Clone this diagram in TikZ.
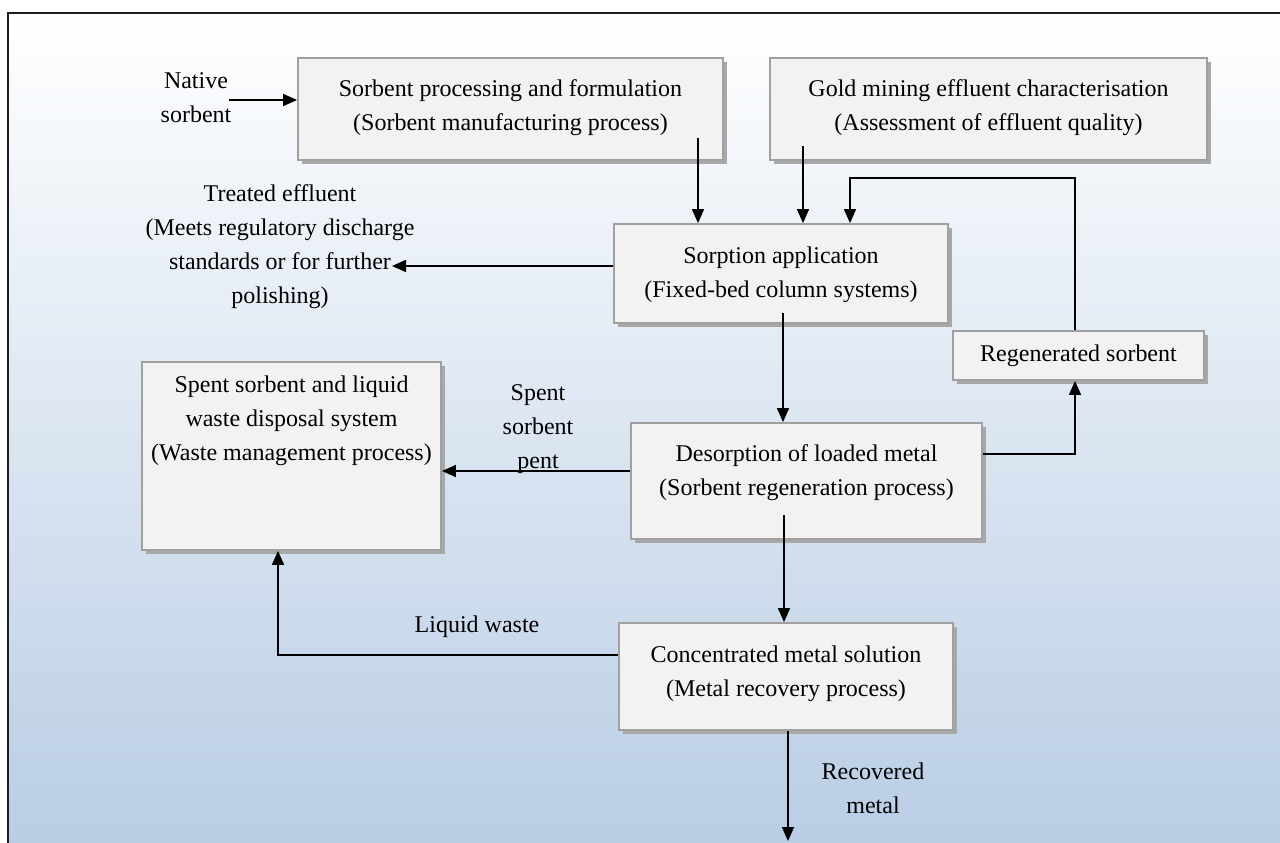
\documentclass[tikz,border=0pt]{standalone}
\usepackage{fontspec}
\setmainfont{Liberation Serif}
\usetikzlibrary{arrows.meta,shadows}
\definecolor{bgblue}{RGB}{185,205,229}
\definecolor{boxfill}{RGB}{242,242,242}
\definecolor{boxline}{RGB}{160,160,160}
\definecolor{shadowc}{RGB}{168,168,168}
\definecolor{framec}{RGB}{30,30,30}
\newcommand{\ml}[2]{\raisebox{#1}[\height][\depth]{\begin{tabular}{@{}c@{}}#2\end{tabular}}}
\begin{document}
\begin{tikzpicture}[x=1pt,y=-1pt,
  every node/.style={font=\fontsize{24}{34}\selectfont, inner sep=0pt},
  box/.style={draw=boxline, line width=1.8pt, fill=boxfill,
    drop shadow={shadow xshift=4pt, shadow yshift=-4pt, fill=shadowc, opacity=1}},
  arr/.style={line width=1.6pt, draw=black, -{Triangle[length=14pt,width=12pt]}}]
\useasboundingbox (0,0) rectangle (1280,843);
\shade[top color=white, bottom color=bgblue] (8,13) rectangle (1280,843);
\draw[line width=1.6pt, framec] (8,843) -- (8,13) -- (1280,13);

% boxes
\node[box, minimum width=425pt, minimum height=102pt] (b1) at (510.5,109)
  {\ml{2pt}{Sorbent processing and formulation\\(Sorbent manufacturing process)}};
\node[box, minimum width=437pt, minimum height=102pt] (b2) at (988.5,109)
  {\ml{2pt}{Gold mining effluent characterisation\\(Assessment of effluent quality)}};
\node[box, minimum width=334pt, minimum height=99pt] (sorp) at (781,273.5)
  {\ml{0pt}{Sorption application\\(Fixed-bed column systems)}};
\node[box, minimum width=251pt, minimum height=49pt] (regen) at (1078.5,355.5)
  {Regenerated sorbent};
\node[box, minimum width=351pt, minimum height=116pt] (desorp) at (806.5,481)
  {\ml{9pt}{Desorption of loaded metal\\(Sorbent regeneration process)}};
\node[box, minimum width=299pt, minimum height=188pt] (spent) at (291.5,456)
  {\ml{36pt}{Spent sorbent and liquid\\waste disposal system\\(Waste management process)}};
\node[box, minimum width=334pt, minimum height=107pt] (conc) at (786,676.5)
  {\ml{4pt}{Concentrated metal solution\\(Metal recovery process)}};

% labels
\node (native) at (196,99) {\ml{0pt}{Native\\sorbent}};
\node (treated) at (280,246) {\ml{0pt}{Treated effluent\\(Meets regulatory discharge\\standards or for further\\polishing)}};
\node (spentlbl) at (538,428) {\ml{0pt}{Spent\\sorbent\\pent}};
\node (liquid) at (477,627) {Liquid waste};
\node (recov) at (873,790) {\ml{0pt}{Recovered\\metal}};

% free ends
\coordinate (n1) at (229,100);
\coordinate (p1) at (698,138);
\coordinate (p2) at (803,146);
\coordinate (fb) at (850,178);
\coordinate (t1) at (392,266);
\coordinate (p3) at (783,313);
\coordinate (p4) at (784,515);
\coordinate (q1) at ([yshift=10pt]desorp.west);
\coordinate (q2) at ([yshift=21.5pt]conc.west);
\coordinate (lwx) at (278,0);
\coordinate (out) at (788,841);

% connectors
\draw[arr] (n1) -- (n1 -| b1.west);
\draw[arr] (p1) -- (p1 |- sorp.north);
\draw[arr] (p2) -- (p2 |- sorp.north);
\draw[arr] ([xshift=-3.5pt]regen.north) |- (fb) -- (fb |- sorp.north);
\draw[arr] ([yshift=7.5pt]sorp.west) -- (t1);
\draw[arr] (p3) -- (p3 |- desorp.north);
\draw[arr] ([yshift=27pt]desorp.east) -| ([xshift=-3.5pt]regen.south);
\draw[arr] (q1) -- (q1 -| spent.east);
\draw[arr] (p4) -- (p4 |- conc.north);
\draw[arr] (q2) -| (lwx |- spent.south);
\draw[arr] ([xshift=2pt]conc.south) -- (out);
\end{tikzpicture}
\end{document}
